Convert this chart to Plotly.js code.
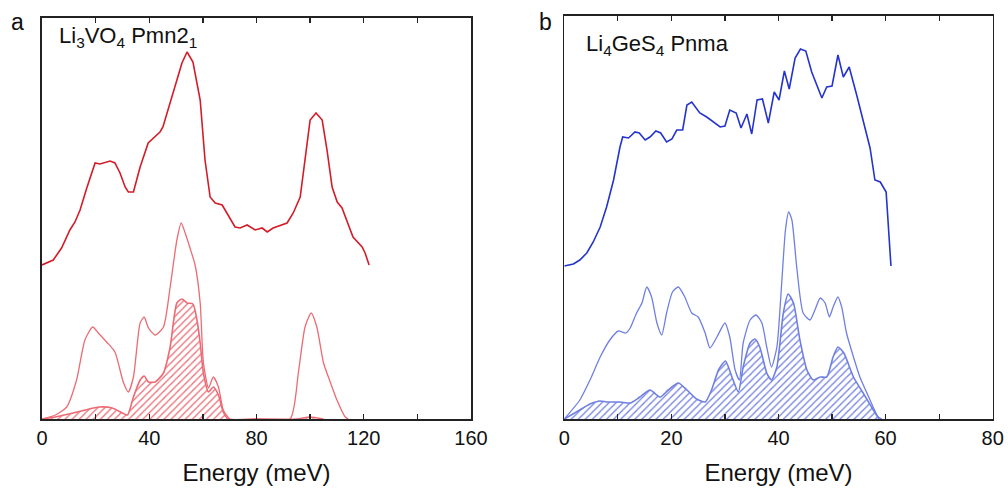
<!DOCTYPE html>
<html><head><meta charset="utf-8">
<script src="https://cdn.plot.ly/plotly-3.0.1.min.js"></script>
<style>body{margin:0;background:#fff}#plot{width:1008px;height:489px}</style>
</head><body><div id="plot"></div>
<script>
// Panel a: Li3VO4 Pmn21 (arbitrary DOS units, total curve offset upward)
const aTotalE = [0,4.2,7.3,10.4,12.3,14.2,16.7,18.5,19.8,21.6,25.4,27.2,29.1,31.0,32.2,34.1,36.6,39.6,44.0,45.1,48.9,52.2,54.1,56.3,59.0,60.8,62.7,64.6,67.2,72.0,73.9,76.5,79.5,82.1,84.0,86.2,91.4,93.7,96.3,98.1,100,102.2,104.5,106.3,108.2,110.1,111.9,116,119.4,120.5,122];
const aTotalV = [154,159,171,189,197,209,231,247,256,255,258,256,246,232,227,227,252,276,287,292,326,356,367,357,319,259,222,216,214,192,191,194,189,191,187,191,196,206,222,259,299,306,299,269,232,217,211,182,172,166,154];
const aPartE = [0,5,9.2,12.9,16.0,18.9,21.0,24.1,27.2,30.3,32.2,34.1,36.6,38.1,39.7,42.2,45.3,47.8,50.3,51.9,53.4,55.2,57.1,59.0,60.2,62.1,63.9,65.8,67.6,70.1,80,92.5,95.6,98.1,100.4,102.5,105,107.5,110,113.1,114.2];
const aPartV = [0,4,12,39,79,92,86,77,67,37,27,42,96,102,91,84,92,132,179,196,186,171,154,116,56,31,42,32,9,0,0,0,46,92,106,92,56,37,19,2,0];
const aHatchE = [0,5,10,16.2,21.2,26.2,30.0,31.9,34.1,36.6,38.1,39.7,42.2,45.3,47.8,50.3,52.2,54.1,56.3,57.8,59.0,60.2,62.1,63.9,65.8,67.6,69.4,80,95,100,105];
const aHatchV = [0,2,5,9,12,11,6,4,22,39,43,37,37,46,72,116,120,116,115,99,76,46,27,32,24,7,0,0,0,2,0];
// Panel b: Li4GeS4 Pnma
const bTotalE = [0,1.7,2.9,4.2,5.4,6.7,7.9,9.2,10.4,10.9,12.0,13.2,14.0,15.1,16.0,17.1,18.0,19.1,20.1,21.0,22.1,22.9,23.8,25.3,26.6,29.1,30.0,30.9,32.1,33.0,34.1,35.0,36.0,37.0,38.1,39.2,40.1,41.1,42.0,43.1,44.1,45.1,46.2,48.1,49.0,50.0,51.1,52.1,53.2,54.6,57.1,58.0,59.0,60.1,61.0];
const bTotalV = [153,155,159,166,177,192,212,239,272,282,281,287,286,279,282,288,286,277,280,289,289,314,317,306,302,292,293,309,306,291,305,285,319,320,296,327,319,348,330,361,370,368,347,321,332,333,364,342,352,324,271,239,237,227,153];
const bPartE = [0,2.9,4.8,6.7,8.5,10.1,11.5,12.3,13.5,14.5,15.4,16.3,17.3,18.2,19.1,20.2,21.3,22.5,23.8,25.0,26.3,27.2,28.5,30.0,30.9,31.9,32.7,33.4,34.7,35.8,36.9,37.8,38.7,39.7,40.6,41.3,41.9,42.5,43.4,44.6,45.9,46.8,47.8,48.7,49.5,50.2,51.1,51.8,52.7,54.0,55.2,57.1,58.6,59.3];
const bPartV = [0,19,39,62,79,88,86,91,106,116,132,122,96,84,106,127,132,122,106,102,86,71,82,96,82,49,39,76,99,104,96,72,52,72,136,189,207,199,152,106,99,109,121,116,102,112,122,112,86,62,42,19,2,0];
const bHatchE = [0,2.9,4.8,6.7,7.9,10.4,12.3,14.1,16.0,17.9,19.4,21.3,22.9,24.7,26.3,27.5,28.8,30.1,31.3,32.5,33.4,34.7,35.6,36.5,37.8,38.7,39.7,40.9,41.8,42.8,44.0,45.3,46.5,47.8,49.0,50.2,51.1,52.2,54.0,55.8,57.7,58.8];
const bHatchV = [0,9,15,18,17,17,16,22,29,22,29,36,29,20,17,29,49,58,42,27,52,76,80,72,46,39,52,106,125,116,79,49,39,42,42,62,72,66,42,26,9,0];
const xTicksA = [0,40,80,120,160];
const xTicksB = [0,20,40,60,80];

const redDark = '#d41c28', redLight = '#ec6b74';
const blueDark = '#2434cc', blueLight = '#6f7fe2';

function line(x, y, color, w, xa, ya, shape) {
  return {x, y, type:'scatter', mode:'lines', xaxis:xa, yaxis:ya,
    line:{color, width:w, shape:shape||'linear', smoothing:0.6}, hoverinfo:'skip', showlegend:false};
}
function hatch(x, y, color, xa, ya) {
  return {x, y, type:'scatter', mode:'lines', xaxis:xa, yaxis:ya, fill:'tozeroy',
    fillcolor:'rgba(0,0,0,0)',
    fillpattern:{shape:'/', fgcolor:color, bgcolor:'rgba(255,255,255,0)', size:5, solidity:0.25},
    line:{color, width:1.6, shape:'spline', smoothing:0.6}, hoverinfo:'skip', showlegend:false};
}

const data = [
  line(aTotalE, aTotalV, redDark, 1.6, 'x', 'y'),
  line(aPartE, aPartV, redLight, 1.3, 'x', 'y', 'spline'),
  hatch(aHatchE, aHatchV, redLight, 'x', 'y'),
  line(bTotalE, bTotalV, blueDark, 1.6, 'x2', 'y2'),
  line(bPartE, bPartV, blueLight, 1.3, 'x2', 'y2', 'spline'),
  hatch(bHatchE, bHatchV, blueLight, 'x2', 'y2')
];

const font = {family:'Liberation Sans, Arial, sans-serif', color:'#111'};
function xaxis(domain, range, ticks, minorDt, anchor) {
  return {domain, range, anchor, tickvals:ticks, ticktext:ticks.map(String),
    ticks:'inside', ticklen:5, tickwidth:1.3, tickcolor:'#222',
    minor:{dtick:minorDt, tick0:0, ticks:'inside', ticklen:5, tickwidth:1.3, tickcolor:'#222'},
    showline:true, linecolor:'#222', linewidth:1.6, mirror:'ticks', showgrid:false, zeroline:false,
    tickfont:{...font, size:20}, automargin:false,
    title:{text:'Energy (meV)', font:{...font, size:24}, standoff:16}};
}
function yaxis(domain, range, anchor) {
  return {domain, range, anchor, showticklabels:false, ticks:'', showline:true, linecolor:'#222',
    linewidth:1.6, mirror:true, showgrid:false, zeroline:false, automargin:false, fixedrange:true};
}

const layout = {
  width:1008, height:489, margin:{l:0, r:0, t:0, b:0}, paper_bgcolor:'#fff', plot_bgcolor:'#fff',
  font,
  xaxis: xaxis([42/1008, 471/1008], [0,160], xTicksA, 20, 'y'),
  yaxis: yaxis([70/489, 471/489], [0,401], 'x'),
  xaxis2: xaxis([564.3/1008, 992.7/1008], [0,80], xTicksB, 10, 'y2'),
  yaxis2: yaxis([70/489, 473/489], [0,403], 'x2'),
  annotations: [
    {text:'a', xref:'paper', yref:'paper', x:9/1008, y:1-22/489, xanchor:'left', yanchor:'middle', showarrow:false, font:{...font, size:23}},
    {text:'b', xref:'paper', yref:'paper', x:537/1008, y:1-22/489, xanchor:'left', yanchor:'middle', showarrow:false, font:{...font, size:23}},
    {text:'Li<sub>3</sub>VO<sub>4</sub> Pmn2<sub>1</sub>', xref:'paper', yref:'paper', x:57/1008, y:1-37/489, xanchor:'left', yanchor:'middle', showarrow:false, font:{...font, size:22}},
    {text:'Li<sub>4</sub>GeS<sub>4</sub> Pnma', xref:'paper', yref:'paper', x:584/1008, y:1-45/489, xanchor:'left', yanchor:'middle', showarrow:false, font:{...font, size:22}}
  ]
};
Plotly.newPlot('plot', data, layout, {staticPlot:true, displayModeBar:false});
</script></body></html>
